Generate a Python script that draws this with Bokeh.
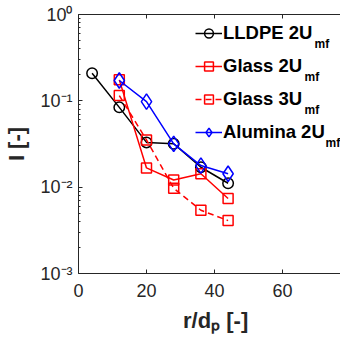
from bokeh.plotting import figure
from bokeh.models import Range1d, FixedTicker, LinearAxis, Label, Legend, LegendItem
from bokeh.embed import file_html
from bokeh.resources import INLINE

# ---- data ----
lldpe_r = [4, 12, 20, 28, 36, 44]
lldpe_2u = [0.209, 0.084, 0.033, 0.0318, 0.0170, 0.0111]
glass_r = [12, 20, 28, 36, 44]
glass_2u = [0.175, 0.0167, 0.0121, 0.0143, 0.0074]
glass_3u = [0.115, 0.0353, 0.0097, 0.0054, 0.0041]
alumina_r = [12, 20, 28, 36, 44]
alumina_2u = [0.172, 0.098, 0.0317, 0.0178, 0.0143]

x_ticks = [0, 20, 40, 60, 80]
y_ticks = [1e-3, 1e-2, 1e-1, 1e0]
y_tick_labels = ["10\u207b\u00b3", "10\u207b\u00b2", "10\u207b\u00b9", "10\u2070"]
legend_labels = ["LLDPE 2U", "Glass 2U", "Glass 3U", "Alumina 2U"]
legend_subscript = "mf"
x_label = "\u00a0\u00a0r/d\u209a [-]"
y_label = "I [-]"

FONT = "Liberation Sans"
AX = "#262626"

p = figure(width=340, height=341, x_range=Range1d(0, 77.06), y_range=Range1d(1e-3, 1),
           y_axis_type="log", output_backend="svg", toolbar_location=None,
           min_border_left=78, min_border_right=0, min_border_top=14, min_border_bottom=68)
p.outline_line_color = None
p.grid.visible = False
p.background_fill_color = "white"

# x axis
p.xaxis.ticker = FixedTicker(ticks=x_ticks)
p.xaxis.major_tick_in = 4
p.xaxis.major_tick_out = 0
p.xaxis.minor_tick_line_color = None
p.xaxis.axis_line_color = AX
p.xaxis.major_tick_line_color = AX
p.xaxis.major_label_text_font = FONT
p.xaxis.major_label_text_font_size = "18px"
p.xaxis.major_label_text_color = AX
p.xaxis.major_label_standoff = 10
p.xaxis.axis_label = x_label
p.xaxis.axis_label_text_font = FONT
p.xaxis.axis_label_text_font_style = "bold"
p.xaxis.axis_label_text_font_size = "22px"
p.xaxis.axis_label_text_color = AX
p.xaxis.axis_label_standoff = 8

# y axis
minor = [m * 10.0 ** e for e in range(-3, 0) for m in range(2, 10)]
p.yaxis.ticker = FixedTicker(ticks=y_ticks, minor_ticks=minor)
p.yaxis.major_label_overrides = {t: s for t, s in zip(y_ticks, y_tick_labels)}
p.yaxis.major_tick_in = 4
p.yaxis.major_tick_out = 0
p.yaxis.minor_tick_in = 2
p.yaxis.minor_tick_out = 0
p.yaxis.axis_line_color = AX
p.yaxis.major_tick_line_color = AX
p.yaxis.minor_tick_line_color = AX
p.yaxis.major_label_text_font = FONT
p.yaxis.major_label_text_font_size = "18px"
p.yaxis.major_label_text_color = AX
p.yaxis.major_label_text_baseline = "hanging"
p.yaxis.major_label_standoff = 6
p.yaxis.axis_label = y_label
p.yaxis.axis_label_text_font = FONT
p.yaxis.axis_label_text_font_style = "bold"
p.yaxis.axis_label_text_font_size = "22px"
p.yaxis.axis_label_text_color = AX
p.yaxis.axis_label_standoff = 8

# top axis (frame line with inward ticks)
top = LinearAxis(ticker=FixedTicker(ticks=x_ticks), major_tick_in=4, major_tick_out=0,
                 minor_tick_line_color=None, axis_line_color=AX, major_tick_line_color=AX,
                 major_label_text_color=None, major_label_text_font_size="1px",
                 major_label_standoff=0)
p.add_layout(top, "above")

# ---- series ----
lw = 1.5
r1 = p.line(lldpe_r, lldpe_2u, line_color="black", line_width=lw)
m1 = p.scatter(lldpe_r, lldpe_2u, marker="circle", size=10.5, line_color="black",
               fill_color=None, line_width=lw)
r2 = p.line(glass_r, glass_2u, line_color="red", line_width=lw)
m2 = p.scatter(glass_r, glass_2u, marker="square", size=10, line_color="red",
               fill_color=None, line_width=lw)
r3 = p.line(glass_r, glass_3u, line_color="red", line_width=lw, line_dash="6 4")
m3 = p.scatter(glass_r, glass_3u, marker="square", size=10, line_color="red",
               fill_color=None, line_width=lw)
r4 = p.line(alumina_r, alumina_2u, line_color="blue", line_width=lw)
m4 = p.scatter(alumina_r, alumina_2u, marker="diamond", size=15.5, line_color="blue",
               fill_color=None, line_width=lw)

legend = Legend(items=[LegendItem(label=legend_labels[0], renderers=[r1, m1]),
                       LegendItem(label=legend_labels[1], renderers=[r2, m2]),
                       LegendItem(label=legend_labels[2], renderers=[r3, m3]),
                       LegendItem(label=legend_labels[3], renderers=[r4, m4])],
                location=(117, 130), padding=0, margin=0, spacing=11,
                glyph_width=27, glyph_height=22, label_height=22, label_standoff=1,
                label_text_font=FONT, label_text_font_style="bold",
                label_text_font_size="18.5px", label_text_color="black",
                label_text_baseline="alphabetic",
                background_fill_alpha=0, border_line_color=None)
p.add_layout(legend, "center")

# legend subscripts
sub_x = [236, 226, 226, 247]
sub_y = [-29, -62, -95, -128]
for sx, sy in zip(sub_x, sub_y):
    p.add_layout(Label(x=0, y=1, x_offset=sx, y_offset=sy, text=legend_subscript,
                       text_font=FONT, text_font_style="bold", text_font_size="12px",
                       text_color="black", text_align="left", text_baseline="alphabetic"))

open("out.html", "w").write(file_html(p, INLINE))
